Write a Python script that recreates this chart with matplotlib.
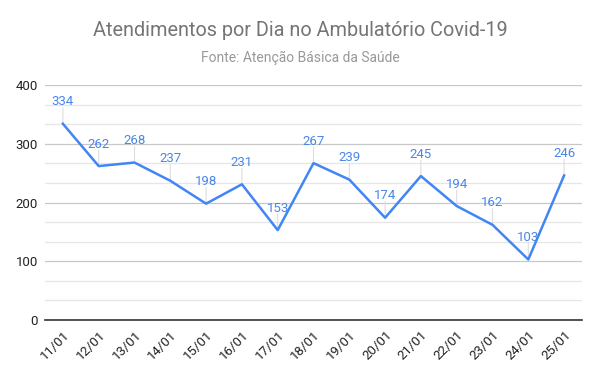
import matplotlib.pyplot as plt
import matplotlib.ticker as mticker
import numpy as np

plt.rcParams['font.family'] = ['Roboto', 'DejaVu Sans']

# dados
dias = ["11/01", "12/01", "13/01", "14/01", "15/01", "16/01", "17/01", "18/01",
        "19/01", "20/01", "21/01", "22/01", "23/01", "24/01", "25/01"]
atendimentos = [334, 262, 268, 237, 198, 231, 153, 267, 239, 174, 245, 194, 162, 103, 246]

azul = '#4285F4'
azul_txt = '#4a86e8'

fig = plt.figure(figsize=(6, 3.71), dpi=100)
ax = fig.add_axes([45 / 600, 1 - 320 / 371, 537 / 600, 235 / 371])

x = np.arange(len(dias))
ax.plot(x, atendimentos, color=azul, lw=1.8, zorder=3)

# rótulos com linha guia
for xi, v in zip(x, atendimentos):
    ax.annotate("", xy=(xi, v), xytext=(0, 16), textcoords='offset pixels',
                arrowprops=dict(arrowstyle='-', color='#dddddd', lw=0.8, shrinkA=0, shrinkB=0),
                zorder=2)
    ax.annotate(str(v), xy=(xi, v), xytext=(0, 22), textcoords='offset pixels',
                ha='center', va='center', fontsize=9.5, color=azul_txt, zorder=4)

ax.set_ylim(0, 400)
ax.set_xlim(-0.5, len(dias) - 0.5)
ax.yaxis.set_major_locator(mticker.MultipleLocator(100))
ax.yaxis.set_minor_locator(mticker.AutoMinorLocator(3))
ax.grid(True, which='major', axis='y', color='#c8c8c8', lw=0.9)
ax.grid(True, which='minor', axis='y', color='#e6e6e6', lw=0.9)
ax.set_axisbelow(True)

for s in ['top', 'right', 'left']:
    ax.spines[s].set_visible(False)
ax.spines['bottom'].set_color('#333333')
ax.spines['bottom'].set_linewidth(1.2)

ax.set_xticks(x)
ax.set_xticklabels(dias, rotation=45, ha='right', rotation_mode='anchor', fontsize=9.5, color='#222222')
ax.tick_params(axis='both', which='both', length=0)
ax.tick_params(axis='x', pad=6)
ax.tick_params(axis='y', labelsize=9.5, labelcolor='#222222', pad=5)

fig.text(0.5, 1 - 30 / 371, "Atendimentos por Dia no Ambulatório Covid-19",
         ha='center', va='center', fontsize=14.3, color='#757575')
fig.text(0.5, 1 - 58 / 371, "Fonte: Atenção Básica da Saúde",
         ha='center', va='center', fontsize=10, color='#999999')

fig.savefig("out.png", dpi=100, facecolor='w')
